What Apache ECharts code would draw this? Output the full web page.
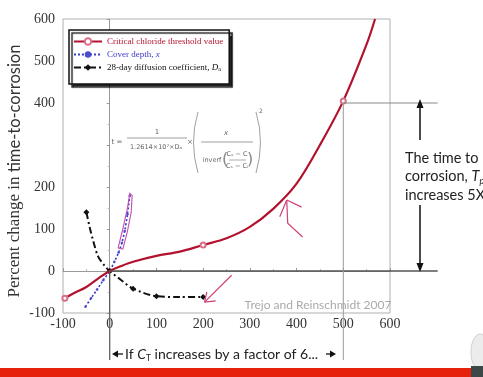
<!DOCTYPE html>
<html><head><meta charset="utf-8">
<script src="https://cdn.jsdelivr.net/npm/echarts@6/dist/echarts.min.js"></script>
<style>html,body{margin:0;padding:0;background:#fff;overflow:hidden}#c{width:483px;height:377px}</style>
</head><body><div id="c"></div>
<script>
// ---- data ----
const seriesNames = ['Critical chloride threshold value', 'Cover depth, x', '28-day diffusion coefficient, Da'];
const chlorideX = [-96, -75, -50, -25, 0, 25, 50, 100, 150, 200, 250, 300, 350, 400, 450, 500, 550, 568];
const chlorideY = [-65, -52, -38, -18, 0, 12, 22, 36, 46, 62, 78, 105, 148, 208, 300, 405, 540, 600];
const chlorideMarkers = [0, 9, 15];
const coverX = [-52, -40, -27, -14, 0, 10, 19, 26, 32, 38, 43];
const coverY = [-85, -65, -44, -22, 0, 22, 44, 67, 95, 135, 180];
const diffX = [-50, -42, -35, -25, -12, 0, 25, 50, 100, 150, 200];
const diffY = [140, 100, 70, 35, 14, 0, -22, -42, -60, -62, -62];
const diffMarkers = [0, 5, 7, 8, 10];
const xMin = -100, xMax = 600, xStep = 100;
const yMin = -100, yMax = 600, yStep = 100;
const hiddenYLabels = [300];

const chart = echarts.init(document.getElementById('c'), null, {renderer: 'canvas'});
function build(xs, ys, marks) {
  return xs.map((x, i) => {
    const d = {value: [x, ys[i]]};
    if (marks && marks.indexOf(i) < 0) d.symbol = 'none';
    return d;
  });
}
const serif = 'Liberation Serif';
chart.setOption({
  animation: false,
  grid: {left: 63, right: 93, top: 19, bottom: 64, show: true, borderColor: '#b0b0b0', borderWidth: 1},
  xAxis: {
    type: 'value', min: xMin, max: xMax, interval: xStep,
    axisLine: {lineStyle: {color: '#999'}},
    axisTick: {inside: true, length: 3, lineStyle: {color: '#999'}},
    minorTick: {show: true, splitNumber: 2, length: 2, lineStyle: {color: '#bbb'}},
    splitLine: {show: false},
    axisLabel: {fontFamily: serif, fontSize: 14, color: '#333', margin: 4}
  },
  yAxis: {
    type: 'value', min: yMin, max: yMax, interval: yStep,
    axisLine: {show: true, lineStyle: {color: '#999'}},
    axisTick: {show: true, inside: false, length: 3, lineStyle: {color: '#999'}},
    minorTick: {show: true, splitNumber: 2, length: 2, lineStyle: {color: '#bbb'}},
    splitLine: {show: false},
    axisLabel: {fontFamily: serif, fontSize: 14, color: '#333', margin: 8,
      formatter: v => hiddenYLabels.indexOf(v) >= 0 ? '' : String(v)}
  },
  legend: {
    orient: 'vertical', left: 69, top: 30,
    padding: [7, 6, 12, 4], itemGap: 4, itemWidth: 28, itemHeight: 8,
    backgroundColor: '#fff', borderColor: '#111', borderWidth: 1.5,
    shadowColor: 'rgba(0,0,0,0.85)', shadowBlur: 1, shadowOffsetX: 3, shadowOffsetY: 3,
    textStyle: {
      fontFamily: serif, fontSize: 9,
      rich: {
        r: {color: '#b3122e', fontFamily: serif, fontSize: 9},
        b: {color: '#3a3ac8', fontFamily: serif, fontSize: 9},
        bi: {color: '#3a3ac8', fontFamily: serif, fontSize: 9, fontStyle: 'italic'},
        k: {color: '#111', fontFamily: serif, fontSize: 9},
        ki: {color: '#111', fontFamily: serif, fontSize: 9, fontStyle: 'italic'},
        ks: {color: '#111', fontFamily: serif, fontSize: 6, verticalAlign: 'bottom', lineHeight: 6}
      }
    },
    formatter: function (n) {
      if (n === seriesNames[0]) return '{r|' + n + '}';
      if (n === seriesNames[1]) return '{b|Cover depth, }{bi|x}';
      return '{k|28-day diffusion coefficient, }{ki|D}{ks|a}';
    },
    data: seriesNames
  },
  series: [
    {name: seriesNames[0], type: 'line', smooth: 0.35, data: build(chlorideX, chlorideY, chlorideMarkers),
     symbol: 'emptyCircle', symbolSize: 5, z: 4,
     lineStyle: {color: '#b3122e', width: 2.2}, itemStyle: {color: '#d97088', borderWidth: 1}},
    {name: seriesNames[1], type: 'line', smooth: 0.3, data: build(coverX, coverY, null),
     symbol: 'circle', symbolSize: 2.5, z: 3,
     lineStyle: {color: '#3a3ac8', width: 1.6, type: [2, 2]}, itemStyle: {color: '#4b4bd0'}},
    {name: seriesNames[2], type: 'line', smooth: 0.3, data: build(diffX, diffY, diffMarkers),
     symbol: 'diamond', symbolSize: 6, z: 3,
     lineStyle: {color: '#111', width: 2, type: [7, 3, 2, 3]}, itemStyle: {color: '#111'}}
  ]
});

function P(x, y) { return chart.convertToPixel({gridIndex: 0}, [x, y]); }
function pl(pts, stroke, w, z) {
  return {type: 'polyline', z: z || 20, shape: {points: pts.map(p => P(p[0], p[1]))},
          style: {stroke: stroke, lineWidth: w, fill: null}};
}
function pxLine(pts, stroke, w) {
  return {type: 'polyline', z: 20, shape: {points: pts}, style: {stroke: stroke, lineWidth: w, fill: null}};
}
function tri(pts, fill) {
  return {type: 'polygon', z: 21, shape: {points: pts}, style: {fill: fill}};
}
function txt(x, y, t, st) {
  return {type: 'text', z: 22, x: x, y: y, style: Object.assign({text: t, fill: '#666', fontSize: 7, fontFamily: 'DejaVu Sans', align: 'center', verticalAlign: 'middle'}, st || {})};
}
const pink = '#d0407a';
const g = [];
// reference lines tied to data values
g.push(pl([[0, 0], [702, 0]], '#555', 1.5));
g.push(pl([[500, 400], [702, 400]], '#888', 1));
g.push(pl([[500, 400], [500, -212]], '#999', 1));
g.push(pl([[0, 0], [0, -212]], '#555', 1.2));
// hand-drawn annotations
g.push(pl([[379, 169], [364, 129]], pink, 1.2));
g.push(pl([[379, 169], [411, 152]], pink, 1.2));
g.push(pl([[379, 169], [381, 114], [413, 81]], pink, 1.2));
g.push(pl([[261, -10], [203, -74]], pink, 1.2));
g.push(pl([[203, -74], [208, -50]], pink, 1.2));
g.push(pl([[203, -74], [227, -71]], pink, 1.2));
g.push(pl([[18, 55], [28, 100], [38, 150], [43, 185], [48, 180], [46, 140], [38, 95], [28, 52], [18, 55]], '#c050b0', 1.1));
// bracket arrows
g.push(pxLine([[420, 140], [420, 106]], '#111', 1.5));
g.push(tri([[420, 99], [416.5, 108], [423.5, 108]], '#111'));
g.push(pxLine([[420, 205], [420, 265]], '#111', 1.5));
g.push(tri([[420, 272], [416.5, 263], [423.5, 263]], '#111'));
g.push({type: 'text', z: 22, x: 405, y: 149, style: {
  text: '{n|The time to}\n{n|corrosion, }{i|T}{s|p}\n{n|increases 5X}',
  fill: '#222', align: 'left', verticalAlign: 'top', lineHeight: 18.5,
  rich: {n: {fontFamily: 'Lato', fontSize: 14.5, fill: '#222', lineHeight: 18.5},
         i: {fontFamily: 'Lato', fontSize: 14.5, fontStyle: 'italic', fill: '#222', lineHeight: 18.5},
         s: {fontFamily: 'Lato', fontSize: 9, fontStyle: 'italic', fill: '#222', verticalAlign: 'bottom', lineHeight: 9}}}});
// bottom factor text
g.push(pxLine([[123, 354], [116, 354]], '#111', 1.3));
g.push(tri([[112, 354], [118, 350.5], [118, 357.5]], '#111'));
g.push(pxLine([[326, 354], [332, 354]], '#111', 1.3));
g.push(tri([[336, 354], [330, 350.5], [330, 357.5]], '#111'));
g.push({type: 'text', z: 22, x: 125, y: 354, style: {
  text: '{n|If }{i|C}{s|T}{n| increases by a factor of 6...}',
  align: 'left', verticalAlign: 'middle',
  rich: {n: {fontFamily: 'Lato', fontSize: 14, fill: '#222', lineHeight: 18},
         i: {fontFamily: 'Lato', fontSize: 14, fontStyle: 'italic', fill: '#222', lineHeight: 18},
         s: {fontFamily: 'Lato', fontSize: 8.5, fill: '#222', verticalAlign: 'bottom', lineHeight: 9}}}});
// source text
g.push(txt(318, 305, 'Trejo and Reinschmidt 2007', {fill: '#aaa', fontSize: 12, fontFamily: 'Lato'}));
// y-axis title
g.push({type: 'text', z: 22, x: 15, y: 171, rotation: Math.PI / 2, style: {
  text: '{a|Percent change in }{b|time-to-corrosion}', align: 'center', verticalAlign: 'middle',
  rich: {a: {fontFamily: serif, fontSize: 17, fill: '#333'}, b: {fontFamily: 'Lato', fontSize: 16.5, fill: '#333'}}}});
// formula
g.push(txt(117, 142, 't ='));
g.push(txt(157, 132, '1'));
g.push(pxLine([[127, 138], [187, 138]], '#777', 0.7));
g.push(txt(156, 147, '1.2614×10⁷×Dₐ', {fontSize: 6.5}));
g.push(txt(190, 142, '×'));
g.push({type: 'bezierCurve', z: 20, shape: {x1: 198, y1: 112, x2: 198, y2: 173, cpx1: 189, cpy1: 142}, style: {stroke: '#888', lineWidth: 0.8, fill: null}});
g.push({type: 'bezierCurve', z: 20, shape: {x1: 256, y1: 112, x2: 256, y2: 173, cpx1: 265, cpy1: 142}, style: {stroke: '#888', lineWidth: 0.8, fill: null}});
g.push(txt(226, 133, 'x', {fontStyle: 'italic'}));
g.push(pxLine([[201, 142], [253, 142]], '#777', 0.7));
g.push(txt(212, 160, 'inverf', {fontSize: 6.5}));
g.push(txt(225, 160, '(', {fontSize: 16, fill: '#888'}));
g.push(txt(250, 160, ')', {fontSize: 16, fill: '#888'}));
g.push(txt(237, 154, 'Cₛ − C', {fontSize: 6.5}));
g.push(pxLine([[229, 160], [246, 160]], '#777', 0.6));
g.push(txt(237, 166, 'Cₛ − Cᵢ', {fontSize: 6.5}));
g.push(txt(261, 111, '2', {fontSize: 6}));
// footer band and corner
g.push({type: 'rect', z: 5, shape: {x: 0, y: 368, width: 483, height: 9}, style: {fill: '#e6220c'}});
g.push({type: 'ellipse', z: 6, shape: {cx: 480, cy: 352, rx: 9, ry: 18}, style: {fill: '#ececec', stroke: '#cfcfcf', lineWidth: 1}});
g.push({type: 'rect', z: 6, shape: {x: 471, y: 366, width: 12, height: 11}, style: {fill: '#3c4848'}});
chart.setOption({graphic: g});
</script></body></html>
